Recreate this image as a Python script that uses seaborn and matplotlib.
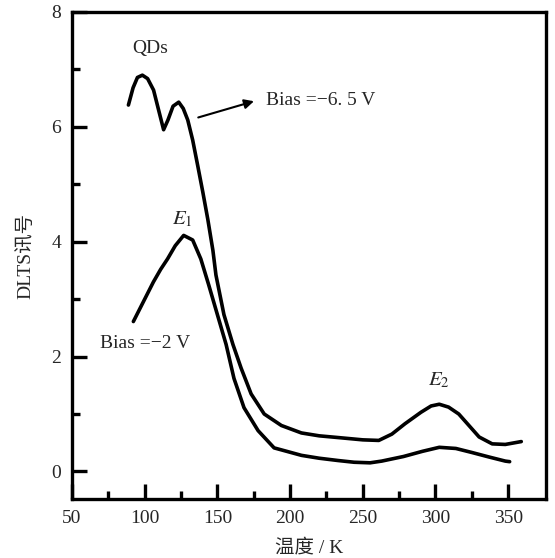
import matplotlib
matplotlib.use("Agg")
import matplotlib.pyplot as plt
import seaborn as sns
import pandas as pd

# Bias = -6.5 V curve
temp_hi = [88.8, 92, 95, 98.4, 102, 106.1, 109.5, 113, 116, 119.5, 123.4, 126.5, 129.6, 133, 136.5, 140, 143.4, 146.9,
           149, 154.5, 160.7, 166.3, 173.2, 182.2, 194, 207.8, 220, 233, 250, 261, 270, 279, 290, 297, 302.6,
           309, 316, 323, 330, 339, 348, 359]
sig_hi = [6.38, 6.68, 6.86, 6.90, 6.84, 6.64, 6.30, 5.95, 6.12, 6.36, 6.43, 6.32, 6.12, 5.77, 5.32, 4.86, 4.39, 3.85,
          3.42, 2.73, 2.21, 1.80, 1.35, 1.00, 0.80, 0.67, 0.62, 0.59, 0.55, 0.54, 0.65, 0.83, 1.03, 1.14, 1.17,
          1.12, 1.00, 0.80, 0.60, 0.48, 0.47, 0.52]

# Bias = -2 V curve
temp_lo = [92.2, 99, 106, 111, 115.7, 121, 126.8, 133, 138.6, 144, 150, 156, 161.4, 168.3, 178, 189, 207.8,
           220, 233, 244, 255, 263, 278, 291, 302.6, 314, 325, 337, 348, 351]
sig_lo = [2.61, 2.95, 3.30, 3.52, 3.70, 3.93, 4.11, 4.03, 3.70, 3.25, 2.73, 2.21, 1.62, 1.11, 0.71, 0.41, 0.28,
          0.23, 0.19, 0.16, 0.15, 0.18, 0.26, 0.35, 0.42, 0.40, 0.33, 0.25, 0.18, 0.17]

x_ticks = [50, 100, 150, 200, 250, 300, 350]
y_ticks = [0, 2, 4, 6, 8]

sns.set_style("white")
plt.rcParams['font.family'] = ['Liberation Serif', 'Noto Sans CJK SC']
plt.rcParams['mathtext.fontset'] = 'stix'

fig = plt.figure(figsize=(5.55, 5.58), dpi=100)
ax = fig.add_axes([72/555, 1-499/558, (546-72)/555, (499-12)/558])

df_hi = pd.DataFrame({"T": temp_hi, "S": sig_hi})
df_lo = pd.DataFrame({"T": temp_lo, "S": sig_lo})
sns.lineplot(data=df_hi, x="T", y="S", sort=False, color="black", lw=2.6, ax=ax)
sns.lineplot(data=df_lo, x="T", y="S", sort=False, color="black", lw=2.6, ax=ax)

ax.set_xlim(50, 376)
ax.set_ylim(-0.48, 8)
ax.set_xticks(x_ticks)
ax.set_xticklabels([str(v) for v in x_ticks])
ax.set_yticks(y_ticks)
ax.set_yticklabels([str(v) for v in y_ticks])
ax.set_xticks([75, 125, 175, 225, 275, 325], minor=True)
ax.set_yticks([1, 3, 5, 7], minor=True)
ax.tick_params(which='both', bottom=True, left=True, top=False, right=False)
ax.tick_params(which='major', direction='in', length=11, width=2.4, labelsize=14, pad=8, color='black')
ax.tick_params(which='minor', direction='in', length=6, width=2.4, color='black')
for s in ax.spines.values():
    s.set_linewidth(2.4)
    s.set_color('black')

ax.set_xlabel("温度 / K", fontsize=14, labelpad=8)
ax.set_ylabel("DLTS讯号", fontsize=14, labelpad=12)

ax.text(103.5, 7.22, "QDs", fontsize=14, ha='center', va='bottom')
ax.text(126, 4.22, r"$E_1$", fontsize=15, ha='center', va='bottom')
ax.text(302.6, 1.42, r"$E_2$", fontsize=15, ha='center', va='bottom')
ax.text(183.5, 6.46, "Bias =\u22126. 5 V", fontsize=14, ha='left', va='center')
ax.text(69.4, 2.23, "Bias =\u22122 V", fontsize=14, ha='left', va='center')
ax.annotate("", xy=(177, 6.46), xytext=(135, 6.15),
            arrowprops=dict(arrowstyle='-|>', color='black', lw=1.5, mutation_scale=14))

fig.savefig("out.png", dpi=100)
